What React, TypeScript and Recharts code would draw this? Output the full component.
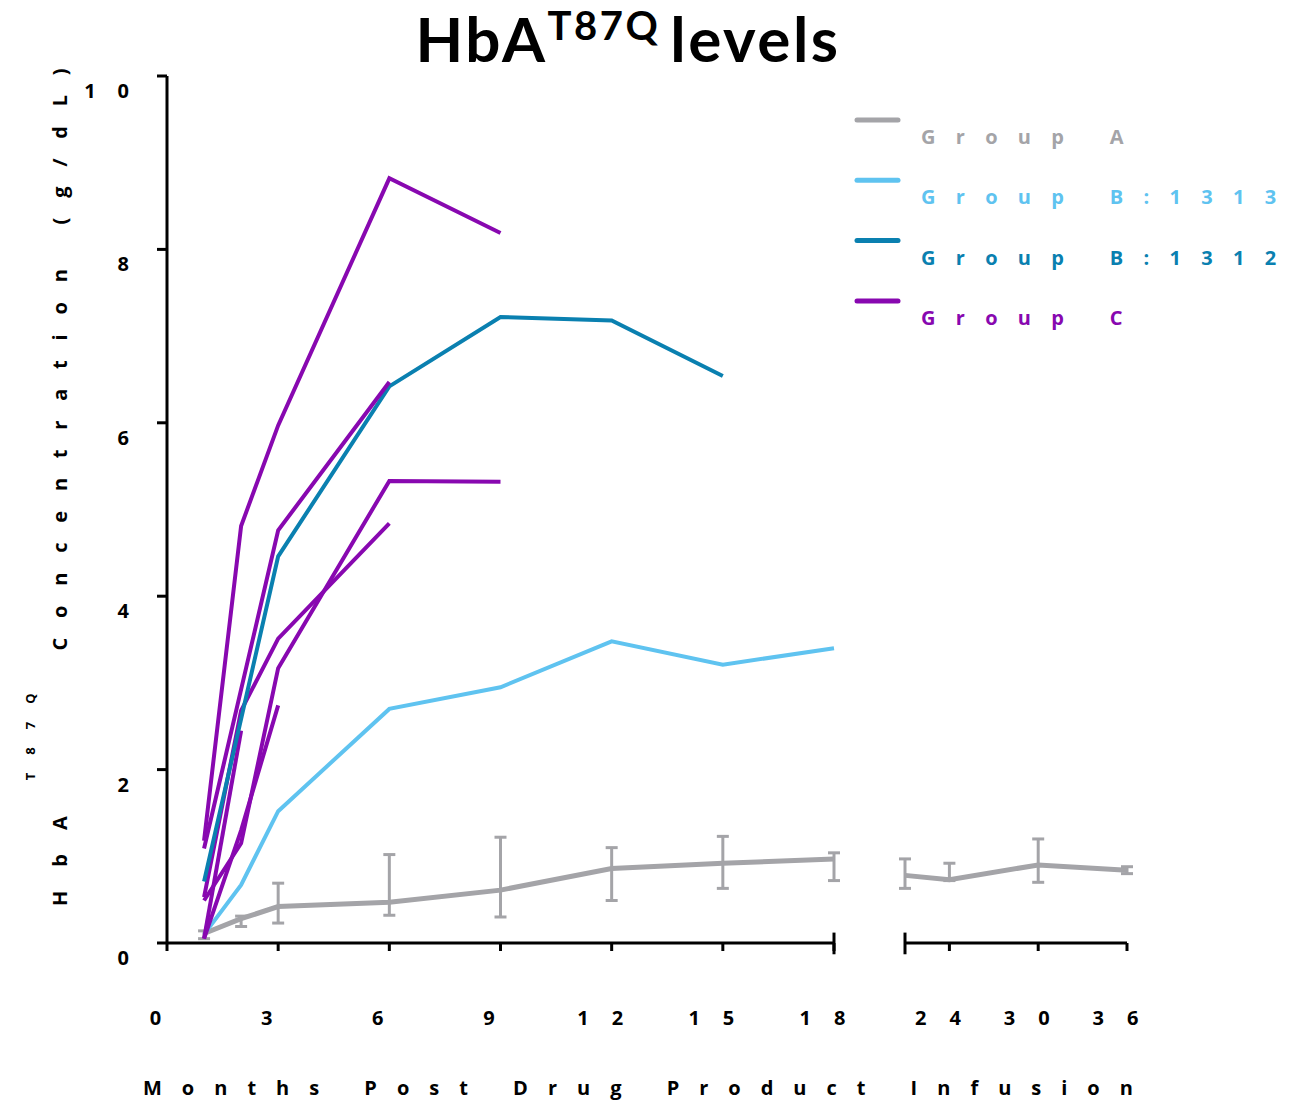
import { ErrorBar, Legend, Line, LineChart, ReferenceLine, XAxis, YAxis } from "recharts";

const months = [1, 2, 3, 6, 9, 12, 15, 18];
const lateMonths = [21, 24, 30, 36];
const earlyTicks = [0, 3, 6, 9, 12, 15, 18];
const lateTicks = [24, 30, 36];
const yTicks = [0, 2, 4, 6, 8, 10];

// Group A: mean with error bar bounds
const groupA = [0.11, 0.28, 0.42, 0.47, 0.61, 0.86, 0.92, 0.97];
const groupAHigh = [0.14, 0.31, 0.69, 1.02, 1.22, 1.1, 1.23, 1.04];
const groupALow = [0.05, 0.19, 0.23, 0.32, 0.3, 0.49, 0.63, 0.72];
const groupALate = [0.78, 0.73, 0.9, 0.84];
const groupALateHigh = [0.97, 0.92, 1.2, 0.88];
const groupALateLow = [0.63, 0.72, 0.7, 0.8];

const groupB1313 = [0.1, 0.67, 1.52, 2.7, 2.95, 3.48, 3.21, 3.4];
const groupB1312 = [0.71, null, 4.46, 6.42, 7.22, 7.18, 6.54, null];

// Group C: one list per patient
const groupC = [
  [1.18, 4.81, 5.97, 8.82, 8.19, null, null, null],
  [1.09, null, 4.76, 6.47, null, null, null, null],
  [0.53, 2.68, 3.51, 4.84, null, null, null, null],
  [0.49, 1.15, 3.17, 5.33, 5.32, null, null, null],
  [0.05, 2.45, null, null, null, null, null, null],
  [0.05, 1.3, 2.74, null, null, null, null, null],
];

const legendNames = ["Group A", "Group B:1313", "Group B:1312", "Group C"];

const GRAY = "#a4a4a8";
const LIGHT = "#5fc3f0";
const TEAL = "#0a80b0";
const PURPLE = "#8808b0";
const legendColors = [GRAY, LIGHT, TEAL, PURPLE];

const FONT = "'Open Sans', 'Noto Sans', sans-serif";
const TITLE_FONT = "Lato, 'Open Sans', sans-serif";

const earlyRows = months.map((m, i) => {
  const row: Record<string, any> = {
    month: m,
    a: groupA[i],
    aErr: [groupA[i] - groupALow[i], groupAHigh[i] - groupA[i]],
    b1313: groupB1313[i],
    b1312: groupB1312[i],
  };
  groupC.forEach((p, k) => (row["c" + k] = p[i]));
  return row;
});

const lateRows = lateMonths.map((m, i) => ({
  month: m,
  a: groupALate[i],
  aErr: [groupALate[i] - groupALateLow[i], groupALateHigh[i] - groupALate[i]],
}));

const axisStyle = { stroke: "#000", strokeWidth: 3 };

function MonthTick({ x, y, payload }: any) {
  return (
    <text x={x} y={y + 72} textAnchor="middle" fontSize={20} fontWeight={700} letterSpacing={23} fill="#000" fontFamily={FONT}>
      {payload.value}
    </text>
  );
}

function ValueTick({ x, y, payload }: any) {
  return (
    <text x={x - 4} y={y + 22} textAnchor="end" fontSize={20} fontWeight={700} letterSpacing={22} fill="#000" fontFamily={FONT}>
      {payload.value}
    </text>
  );
}

function renderXTitle({ viewBox }: any) {
  return (
    <text x={viewBox.x - 24} y={viewBox.y + 152} fontSize={20} fontWeight={700} letterSpacing={20} fill="#000" fontFamily={FONT}>
      Months Post Drug Product Infusion
    </text>
  );
}

function renderYTitle({ viewBox }: any) {
  const x = viewBox.x - 40;
  const y = viewBox.y + viewBox.height - 37;
  return (
    <text transform={`rotate(-90 ${x} ${y})`} x={x} y={y} fontSize={20} fontWeight={700} fill="#000" fontFamily={FONT}>
      <tspan letterSpacing={24}>HbA</tspan>
      <tspan fontSize={13} dx={12} dy={-32} letterSpacing={18}>T87Q</tspan>
      <tspan dy={32} letterSpacing={19.8}> Concentration (g/dL)</tspan>
    </text>
  );
}

function LegendBox() {
  return (
    <svg width={440} height={230}>
      {legendNames.map((name, i) => (
        <g key={name}>
          <line x1={7} x2={48} y1={10 + i * 60.3} y2={10 + i * 60.3} stroke={legendColors[i]} strokeWidth={5} strokeLinecap="round" />
          <text x={71} y={34 + i * 60.3} fontSize={20} fontWeight={700} fill={legendColors[i]} fontFamily={FONT}>
            <tspan letterSpacing={20.3}>{name.slice(0, -1)}</tspan>
            <tspan letterSpacing={0}>{name.slice(-1)}</tspan>
          </text>
        </g>
      ))}
    </svg>
  );
}

export default function App() {
  return (
    <div style={{ position: "absolute", left: 0, top: 0, width: 1291, height: 1104, background: "#fff", fontFamily: FONT }}>
      <div style={{ position: "absolute", left: 0, top: 0 }}>
        <LineChart width={1291} height={1104} data={earlyRows} margin={{ top: 76, right: 457, bottom: 61, left: 107 }}>
          <XAxis
            type="number"
            dataKey="month"
            domain={[0, 18]}
            ticks={earlyTicks}
            interval={0}
            height={100}
            tickSize={8}
            axisLine={axisStyle}
            tickLine={axisStyle}
            tick={<MonthTick />}
            label={renderXTitle}
          />
          <YAxis
            type="number"
            domain={[0, 10]}
            ticks={yTicks}
            interval={0}
            width={60}
            tickSize={10}
            axisLine={axisStyle}
            tickLine={axisStyle}
            tick={<ValueTick />}
            label={renderYTitle}
          />
          <ReferenceLine segment={[{ x: 18, y: -0.13 }, { x: 18, y: 0.12 }]} stroke="#000" strokeWidth={3} ifOverflow="visible" />
          <Legend layout="vertical" align="center" verticalAlign="middle" content={<LegendBox />} wrapperStyle={{ left: 850, top: 110, width: 440 }} />
          <Line dataKey="a" stroke={GRAY} strokeWidth={5} dot={false} activeDot={false} isAnimationActive={false}>
            <ErrorBar dataKey="aErr" direction="y" width={6} stroke={GRAY} strokeWidth={3} isAnimationActive={false} />
          </Line>
          <Line dataKey="b1313" stroke={LIGHT} strokeWidth={4} dot={false} activeDot={false} isAnimationActive={false} connectNulls />
          {groupC.slice(2).map((_, k) => (
            <Line key={k} dataKey={"c" + (k + 2)} stroke={PURPLE} strokeWidth={4} dot={false} activeDot={false} isAnimationActive={false} connectNulls />
          ))}
          <Line dataKey="b1312" stroke={TEAL} strokeWidth={4} dot={false} activeDot={false} isAnimationActive={false} connectNulls />
          <Line dataKey="c0" stroke={PURPLE} strokeWidth={4} dot={false} activeDot={false} isAnimationActive={false} connectNulls />
          <Line dataKey="c1" stroke={PURPLE} strokeWidth={4} dot={false} activeDot={false} isAnimationActive={false} connectNulls />
        </LineChart>
      </div>
      <div style={{ position: "absolute", left: 880, top: 0 }}>
        <LineChart width={300} height={1104} data={lateRows} margin={{ top: 76, right: 53, bottom: 61, left: 25 }}>
          <XAxis
            type="number"
            dataKey="month"
            domain={[21, 36]}
            ticks={lateTicks}
            interval={0}
            height={100}
            tickSize={8}
            axisLine={axisStyle}
            tickLine={axisStyle}
            tick={<MonthTick />}
          />
          <YAxis type="number" domain={[0, 10]} hide />
          <ReferenceLine segment={[{ x: 21, y: -0.13 }, { x: 21, y: 0.12 }]} stroke="#000" strokeWidth={3} ifOverflow="visible" />
          <Line dataKey="a" stroke={GRAY} strokeWidth={5} dot={false} activeDot={false} isAnimationActive={false}>
            <ErrorBar dataKey="aErr" direction="y" width={6} stroke={GRAY} strokeWidth={3} isAnimationActive={false} />
          </Line>
        </LineChart>
      </div>
      <svg style={{ position: "absolute", left: 0, top: 0 }} width={1291} height={80}>
        <text x={628} y={62} textAnchor="middle" fontSize={62} fontWeight={700} letterSpacing={2.5} fill="#000" fontFamily={TITLE_FONT}>
          HbA
          <tspan fontSize={40} dy={-22}>T87Q</tspan>
          <tspan fontSize={62} dy={22} dx={10}>levels</tspan>
        </text>
      </svg>
    </div>
  );
}
